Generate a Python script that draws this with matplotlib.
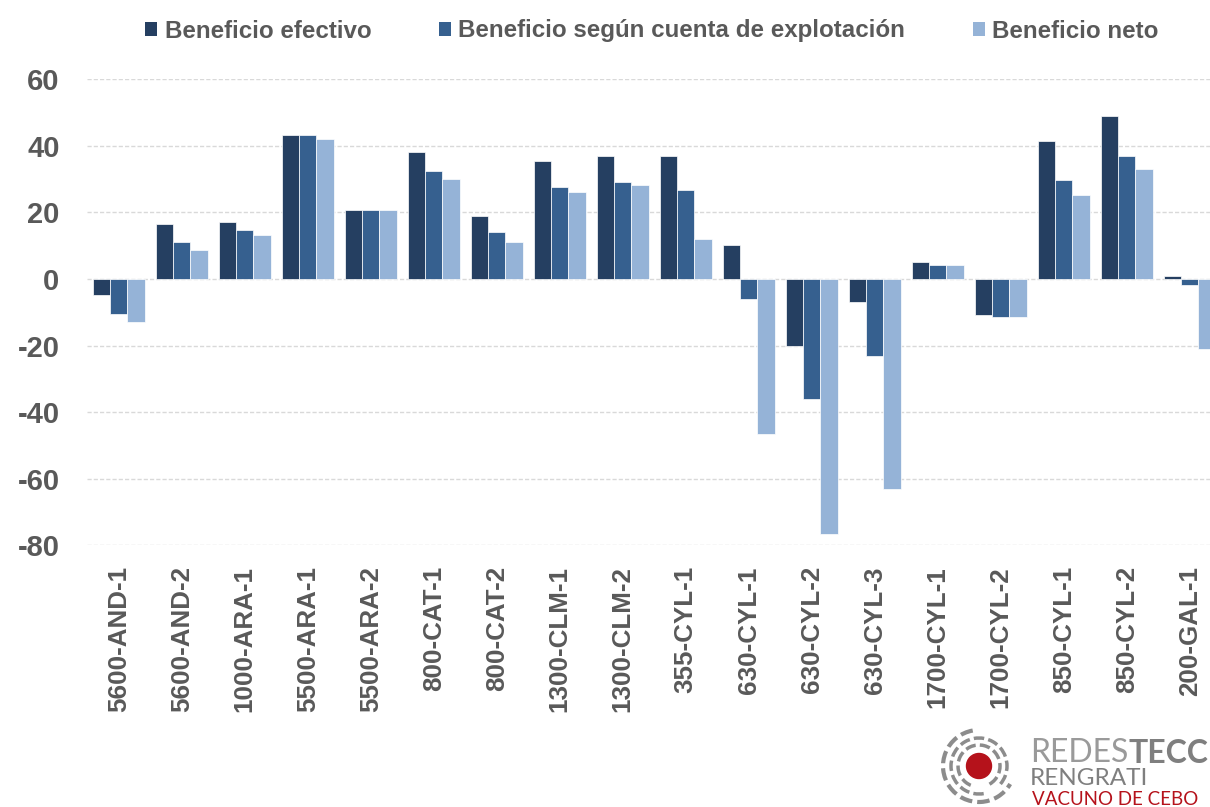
# beneficio por explotacion, tres series de barras agrupadas + logo redestecc

import numpy as np
import matplotlib.pyplot as plt
from matplotlib.patches import Patch, Circle, Arc

categorias = ['5600-AND-1', '5600-AND-2', '1000-ARA-1', '5500-ARA-1', '5500-ARA-2',
              '800-CAT-1', '800-CAT-2', '1300-CLM-1', '1300-CLM-2', '355-CYL-1',
              '630-CYL-1', '630-CYL-2', '630-CYL-3', '1700-CYL-1', '1700-CYL-2',
              '850-CYL-1', '850-CYL-2', '200-GAL-1']
efectivo = [-4.9, 16.5, 17.1, 43.2, 20.6, 38.1, 19.0, 35.6, 37.1, 37.1,
            10.1, -20.0, -6.9, 5.1, -10.9, 41.6, 49.1, 1.0]
explotacion = [-10.4, 11.1, 14.6, 43.2, 20.6, 32.6, 14.1, 27.6, 29.1, 26.6,
               -6.0, -36.0, -23.0, 4.1, -11.4, 29.6, 37.1, -1.9]
neto = [-12.9, 8.6, 13.1, 42.1, 20.6, 30.1, 11.1, 26.1, 28.1, 12.1,
        -46.5, -76.6, -63.0, 4.1, -11.4, 25.1, 33.1, -21.0]
series = ['Beneficio efectivo', 'Beneficio según cuenta de explotación', 'Beneficio neto']
colores = ['#253f61', '#36608f', '#95b3d7']
yticks = [-80, -60, -40, -20, 0, 20, 40, 60]

gris = '#595959'
plt.rcParams['font.family'] = ['Liberation Sans', 'DejaVu Sans']
plt.rcParams['axes.unicode_minus'] = False

fig = plt.figure(figsize=(12.1, 8.07), dpi=100)
ax = fig.add_axes([87.3 / 1210, 1 - 545.3 / 807, 1134 / 1210, 466 / 807])

x = np.arange(len(categorias))
w = 0.275
for k, vals in enumerate([efectivo, explotacion, neto]):
    ax.bar(x + (k - 1) * w, vals, w, color=colores[k], edgecolor='white',
           linewidth=0.5, zorder=3)

ax.set_xlim(-0.5, len(categorias) - 0.5)
ax.set_ylim(-80, 60)
ax.set_yticks(yticks)
ax.set_xticks(x)
ax.set_xticklabels(categorias, rotation=90)
ax.grid(axis='y', color='#d9d9d9', linestyle=(0, (3, 1.5)), linewidth=1.0, zorder=0)
for s in ax.spines.values():
    s.set_visible(False)
ax.tick_params(axis='y', length=0, pad=20, labelsize=21, labelcolor=gris)
ax.tick_params(axis='x', length=0, pad=15, labelsize=18.7, labelcolor=gris)
for t in ax.get_xticklabels() + ax.get_yticklabels():
    t.set_fontweight('bold')

handles = [Patch(facecolor=c) for c in colores]
fig.legend(handles, series, loc='center', bbox_to_anchor=(652 / 1210, 1 - 31 / 807),
           ncol=3, frameon=False, handlelength=0.5, handleheight=0.5,
           handletextpad=0.3, columnspacing=2.8,
           prop={'weight': 'bold', 'size': 17.4}, labelcolor=gris)

# logo
cx, cy = 979, 807 - 766
lax = fig.add_axes([0, 0, 1, 1], zorder=5)
lax.set_xlim(0, 1210)
lax.set_ylim(0, 807)
lax.axis('off')
lax.add_patch(Circle((cx, cy), 12.5, color='#b5121b'))
for r, lw, a0, a1 in [(21, 2.5, -60, 250), (28, 2.5, -40, 280), (36, 3, 100, 330)]:
    lax.add_patch(Arc((cx, cy), 2 * r, 2 * r, theta1=a0, theta2=a1, color='#8c8c8c',
                      linewidth=lw, linestyle=(0, (3, 1.2))))
t1 = lax.text(1030, 807 - 762, 'REDES', fontsize=23, color='#9a9a9a',
              family='Lato', va='baseline')
lax.annotate('TECC', xy=(1, 0), xycoords=t1, fontsize=23, color='#7f7f7f',
             family='Lato', fontweight='bold', va='bottom')
lax.text(1030, 807 - 785, 'RENGRATI', fontsize=17.5, color='#7f7f7f',
         family='Lato', va='baseline')
lax.text(1032, 807 - 805, 'VACUNO DE CEBO', fontsize=13.5, color='#b5121b',
         family='Lato', va='baseline')

plt.savefig('out.png', dpi=100)
